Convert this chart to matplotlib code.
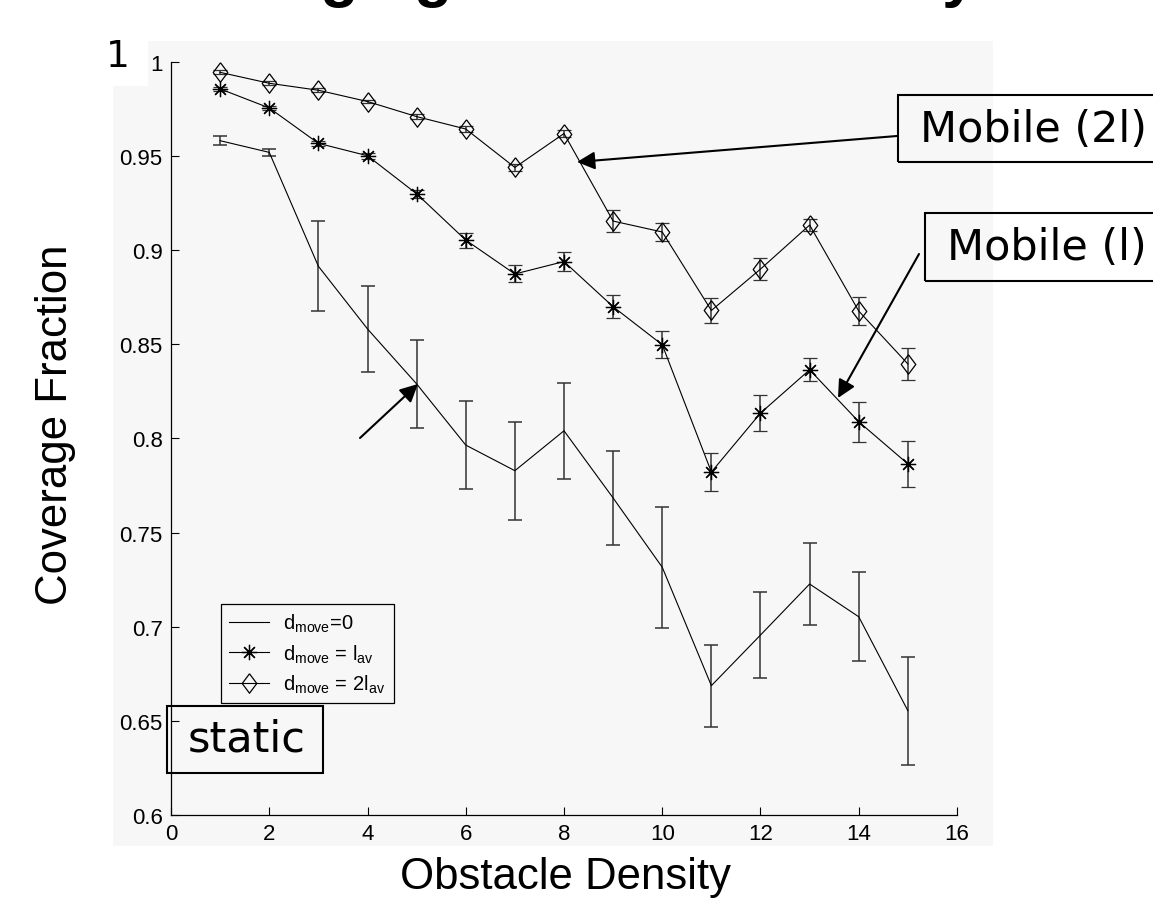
import matplotlib
matplotlib.use('Agg')
import matplotlib.pyplot as plt
from matplotlib.patches import Rectangle, FancyArrowPatch
from matplotlib.lines import Line2D

plt.rcParams['font.family'] = 'Liberation Sans'
plt.rcParams['mathtext.fontset'] = 'custom'
plt.rcParams['mathtext.rm'] = 'Liberation Sans'
plt.rcParams['mathtext.it'] = 'Liberation Sans:italic'

# data
density = [1, 2, 3, 4, 5, 6, 7, 8, 9, 10, 11, 12, 13, 14, 15]
static = [0.9582, 0.952, 0.8915, 0.8582, 0.829, 0.7965, 0.7829, 0.8041,
          0.7684, 0.7316, 0.6687, 0.6956, 0.7227, 0.7053, 0.6554]
static_err = [0.0025, 0.002, 0.024, 0.0227, 0.0234, 0.0234, 0.026, 0.0254,
              0.025, 0.032, 0.0217, 0.0228, 0.0216, 0.0237, 0.0286]
mob1 = [0.9857, 0.9756, 0.9568, 0.9502, 0.930, 0.9054, 0.8874, 0.894,
        0.870, 0.8498, 0.7822, 0.8135, 0.8365, 0.8089, 0.7865]
mob1_err = [0.001, 0.001, 0.0015, 0.0015, 0.002, 0.004, 0.0045, 0.005,
            0.006, 0.0073, 0.0102, 0.0097, 0.006, 0.0105, 0.0122]
mob2 = [0.9945, 0.9887, 0.985, 0.979, 0.971, 0.9644, 0.944, 0.962,
        0.9155, 0.9097, 0.868, 0.890, 0.9134, 0.8677, 0.8396]
mob2_err = [0.001, 0.001, 0.001, 0.001, 0.0015, 0.0015, 0.002, 0.002,
            0.006, 0.005, 0.0065, 0.006, 0.003, 0.0075, 0.0085]

xticks = [0, 2, 4, 6, 8, 10, 12, 14, 16]
yticks = [0.6, 0.65, 0.7, 0.75, 0.8, 0.85, 0.9, 0.95, 1.0]
labels = [r'$\mathrm{d_{move}}$=0',
          r'$\mathrm{d_{move}}$ = $\mathrm{l_{av}}$',
          r'$\mathrm{d_{move}}$ = 2$\mathrm{l_{av}}$']

W, H = 1153, 903
def fx(p):
    return p / W
def fy(p):
    return 1 - p / H

fig = plt.figure(figsize=(W / 100, H / 100), dpi=100)
# grey picture area and the white box behind the "1"
fig.patches.append(Rectangle((fx(113), fy(847)), fx(993) - fx(113), fy(42) - fy(847),
                             transform=fig.transFigure, facecolor='#f7f7f7',
                             edgecolor='none', zorder=-10))
fig.patches.append(Rectangle((fx(95), fy(87)), fx(148) - fx(95), fy(40) - fy(87),
                             transform=fig.transFigure, facecolor='white',
                             edgecolor='none', zorder=-9))

ax = fig.add_axes([fx(171), fy(816), (957 - 171) / W, (816 - 63) / H])
ax.set_facecolor('none')

diamond = [(0, 1), (0.75, 0), (0, -1), (-0.75, 0), (0, 1)]
eb = dict(ecolor='#333333', elinewidth=1.1, capsize=5, capthick=1.1)
ax.errorbar(density, static, yerr=static_err, color='black', lw=0.8, **eb)
ax.errorbar(density, mob1, yerr=mob1_err, color='black', lw=0.8,
            marker=(8, 2, 0), ms=11, mew=0.9, **eb)
ax.errorbar(density, mob2, yerr=mob2_err, color='black', lw=0.8,
            marker=diamond, ms=14, mfc='none', mew=0.9, **eb)

ax.set_xlim(0, 16)
ax.set_ylim(0.6, 1.0)
ax.set_xticks(xticks)
ax.set_xticklabels([str(t) for t in xticks])
ax.set_yticks(yticks)
ax.set_yticklabels([f'{t:g}' for t in yticks])
ax.tick_params(direction='in', length=6, width=0.8, labelsize=16, pad=6)
ax.spines['top'].set_visible(False)
ax.spines['right'].set_visible(False)
for s in ['left', 'bottom']:
    ax.spines[s].set_linewidth(0.9)

handles = [Line2D([], [], color='black', lw=0.8),
           Line2D([], [], color='black', lw=0.8, marker=(8, 2, 0), ms=11, mew=0.9),
           Line2D([], [], color='black', lw=0.8, marker=diamond, ms=14, mfc='none', mew=0.9)]
leg = ax.legend(handles, labels, loc='upper left', bbox_to_anchor=(fx(221), fy(605)),
                bbox_transform=fig.transFigure, borderaxespad=0, fontsize=14.5,
                fancybox=False, edgecolor='black', facecolor='#f7f7f7', framealpha=1,
                handlelength=2.0, handletextpad=0.7, labelspacing=0.4, borderpad=0.4)
leg.get_frame().set_linewidth(0.9)

# slide text
fig.text(fx(164), 1 + 5 / H, 'Changing Obstacle Density', fontsize=45,
         fontweight='bold', va='baseline', ha='left')
fig.text(fx(55), fy(425), 'Coverage Fraction', fontsize=31.5, rotation=90,
         ha='center', va='center')
fig.text(fx(565), fy(889), 'Obstacle Density', fontsize=31.5, ha='center', va='baseline')
fig.text(fx(106), fy(57), '1', fontsize=27, family='DejaVu Sans', va='center', ha='left')

boxes = [((898, 96, 1160, 163), (920, 130), 'Mobile (2l)'),
         ((925, 214, 1160, 282), (947, 248), 'Mobile (l)'),
         ((167, 707, 323, 774), (188, 740), 'static')]
for (x0, y0, x1, y1), (tx, ty), txt in boxes:
    fig.patches.append(Rectangle((fx(x0), fy(y1)), fx(x1) - fx(x0), fy(y0) - fy(y1),
                                 transform=fig.transFigure, facecolor='none',
                                 edgecolor='black', lw=1.5, zorder=5))
    fig.text(fx(tx), fy(ty), txt, fontsize=31, family='DejaVu Sans',
             va='center', ha='left', zorder=6)

arrows = [((897, 137), (577, 163)),
          ((919, 255), (838, 399)),
          ((360, 439), (418, 385))]
for (ax0, ay0), (ax1, ay1) in arrows:
    fig.patches.append(FancyArrowPatch((fx(ax0), fy(ay0)), (fx(ax1), fy(ay1)),
                                       transform=fig.transFigure, arrowstyle='-|>',
                                       mutation_scale=27, lw=1.5, color='black',
                                       shrinkA=0, shrinkB=0, zorder=5))

fig.savefig('out.png', dpi=100)
